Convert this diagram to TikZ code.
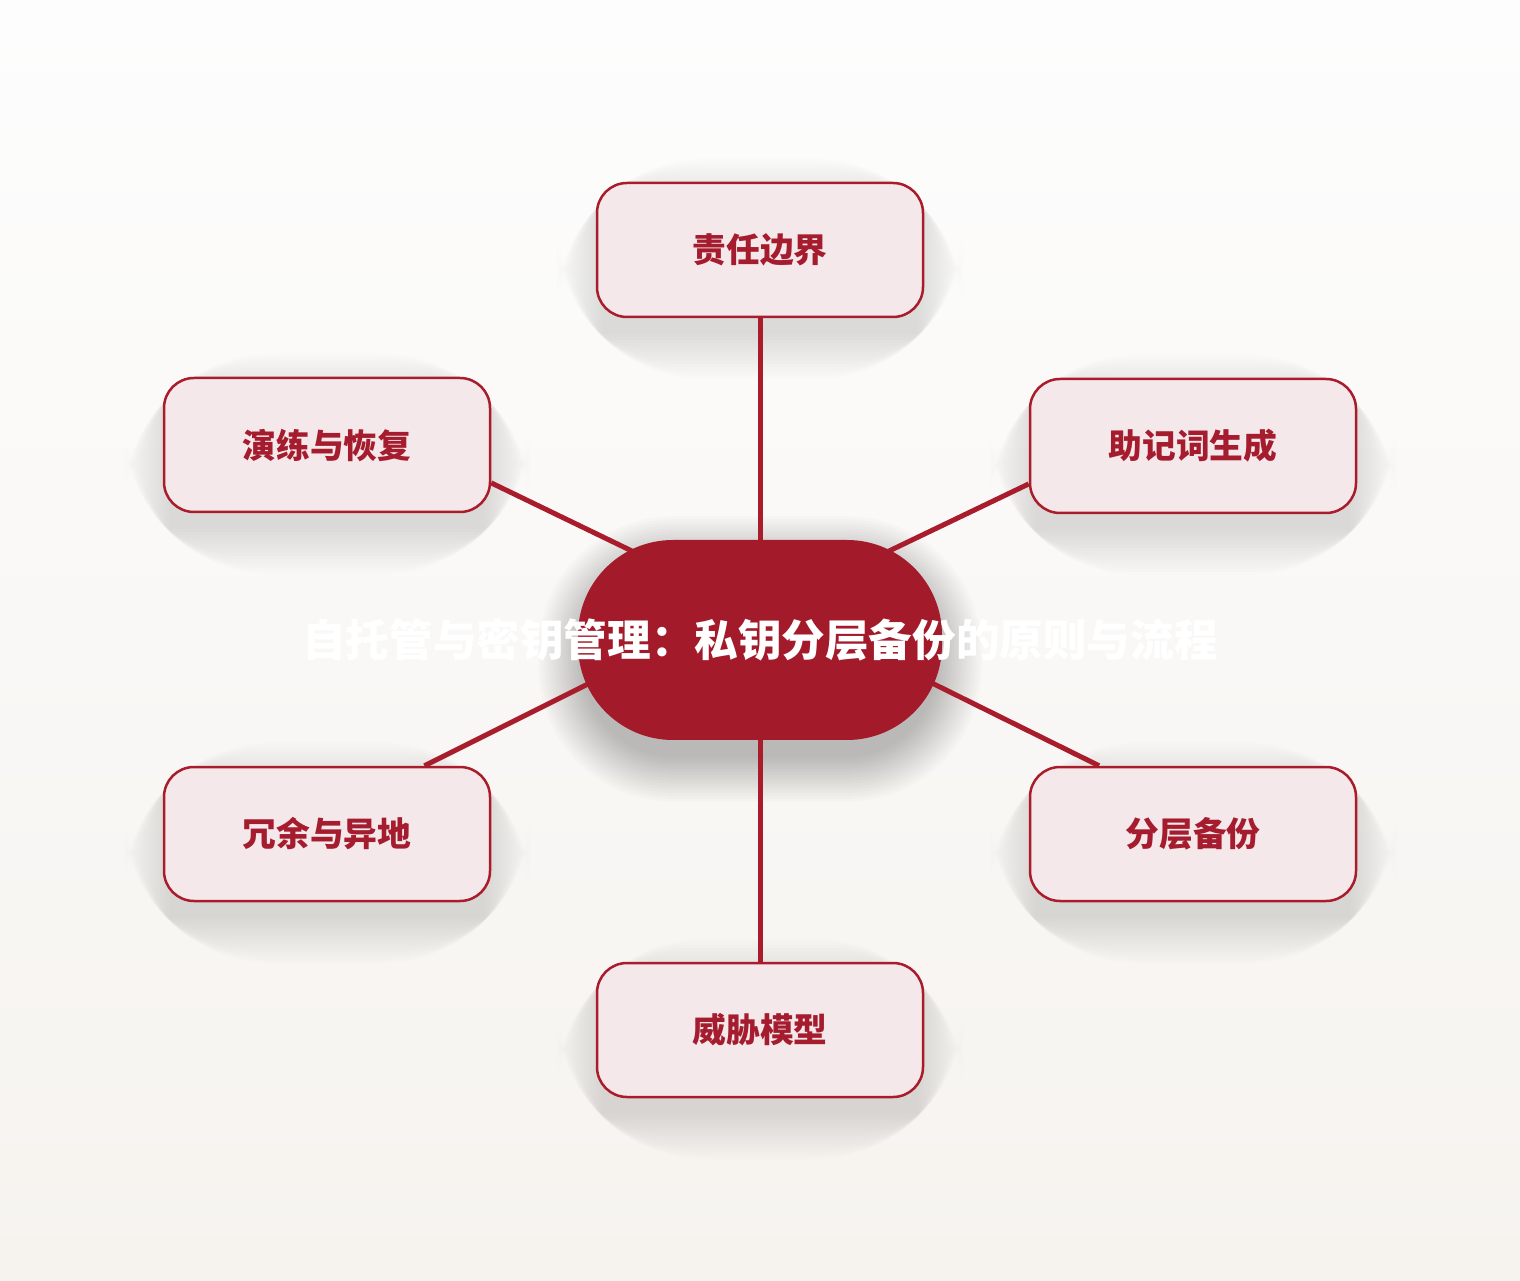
\documentclass[tikz,border=0pt]{standalone}
\usepackage{fontspec}
\newfontfamily\cjk{Noto Sans CJK SC}
\usetikzlibrary{calc}
\definecolor{crimson}{HTML}{A31A2A}
\definecolor{rim}{HTML}{A81C2C}
\definecolor{blush}{HTML}{F4E8EA}
\definecolor{ink}{HTML}{A51C2E}
\definecolor{paper}{HTML}{FDFDFD}
\definecolor{sand}{HTML}{F6F3EF}
\pgfdeclarelayer{bg}
\pgfdeclarelayer{edges}
\pgfsetlayers{bg,edges,main}
\begin{document}
\begin{tikzpicture}[x=0.1mm,y=0.1mm,
    hub/.style={fill=crimson,rounded corners=9.5mm,minimum width=36.4mm,minimum height=20mm,inner sep=0pt},
    title/.style={text=white,font=\cjk\bfseries\fontsize{12.4pt}{14pt}\selectfont},
    topic/.style={draw=rim,line width=0.25mm,fill=blush,rounded corners=3mm,minimum width=32.6mm,minimum height=13.4mm,
        text=ink,font=\cjk\bfseries\fontsize{9.6pt}{11pt}\selectfont},
    spoke/.style={draw=rim,line width=0.5mm}]
    \useasboundingbox (0,0) rectangle (1520,1280);
    \node[hub,label={[title]center:自托管与密钥管理：私钥分层备份的原则与流程}] (c) at (760,640) {};
    \node[topic] (duty) at (760,1030) {责任边界};
    \node[topic] (drill) at (327,835) {演练与恢复};
    \node[topic] (seed) at (1193,834) {助记词生成};
    \node[topic] (spread) at (327,446) {冗余与异地};
    \node[topic] (tier) at (1193,446) {分层备份};
    \node[topic] (threat) at (760,250) {威胁模型};
    \begin{pgfonlayer}{bg}
        \shade[top color=paper,bottom color=sand] (0,0) rectangle (1520,1280);
        \foreach \k [evaluate=\k as \r using 9+0.3*\k] in {0,...,15}
            \fill[black,opacity=0.017,rounded corners=\r mm] ($(c.south west)+(-3*\k+6,-3*\k-16)$) rectangle ($(c.north east)+(3*\k-6,3*\k-22)$);
        \foreach \n in {duty,drill,seed,spread,tier,threat}
            \foreach \k [evaluate=\k as \r using 2.4+0.3*\k] in {0,...,15}
                \fill[black,opacity=0.009,rounded corners=\r mm] ($(\n.south west)+(-3*\k+6,-3*\k-16)$) rectangle ($(\n.north east)+(3*\k-6,3*\k-22)$);
    \end{pgfonlayer}
    \begin{pgfonlayer}{edges}
        \draw[spoke] (duty.south) -- (c.center);
        \draw[spoke] (threat.north) -- (c.center);
        \draw[spoke] (drill.-13.5) -- ($(c)+(0,27)$);
        \draw[spoke] (seed.193.8) -- ($(c)+(0,27)$);
        \draw[spoke] (spread.35.8) -- ($(c)+(0,42)$);
        \draw[spoke] (tier.144.2) -- ($(c)+(0,42)$);
    \end{pgfonlayer}
\end{tikzpicture}
\end{document}
